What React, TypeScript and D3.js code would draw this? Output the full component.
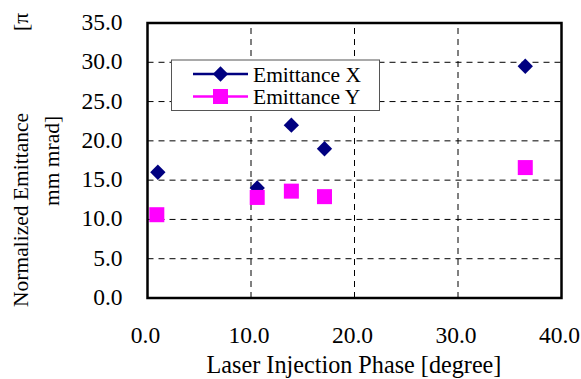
import React, {useEffect, useRef} from 'react';
import * as d3 from 'd3';

// laser injection phase [degree]
const phaseX = [1.0, 10.6, 13.9, 17.1, 36.5];
const emitX = [16.0, 14.0, 22.0, 19.0, 29.5];
const phaseY = [0.9, 10.6, 13.9, 17.1, 36.5];
const emitY = [10.6, 12.8, 13.6, 12.9, 16.6];

const xTicks = [0, 10, 20, 30, 40];
const yTicks = [0, 5, 10, 15, 20, 25, 30, 35];
const seriesNames = ['Emittance X', 'Emittance Y'];

const W = 581;
const H = 379;

function App() {
    const ref = useRef<SVGSVGElement>(null);

    useEffect(() => {
        const svg = d3.select(ref.current);
        svg.selectAll('*').remove();

        const font = 'Liberation Serif, Times New Roman, Times, DejaVu Serif, serif';
        const x = d3.scaleLinear().domain([0, 40]).range([147.5, 561.5]);
        const y = d3.scaleLinear().domain([0, 35]).range([298, 23]);

        // dashed grid
        svg.append('g')
            .selectAll('line')
            .data(yTicks.slice(1, -1))
            .enter()
            .append('line')
            .attr('x1', x(0)).attr('x2', x(40))
            .attr('y1', (d) => y(d)).attr('y2', (d) => y(d))
            .attr('stroke', '#000').attr('stroke-width', 1)
            .attr('stroke-dasharray', '6,5');
        svg.append('g')
            .selectAll('line')
            .data(xTicks.slice(1, -1))
            .enter()
            .append('line')
            .attr('y1', y(0)).attr('y2', y(35))
            .attr('x1', (d) => x(d)).attr('x2', (d) => x(d))
            .attr('stroke', '#000').attr('stroke-width', 1)
            .attr('stroke-dasharray', '6,5');

        // tick labels
        svg.append('g')
            .selectAll('text')
            .data(yTicks)
            .enter()
            .append('text')
            .attr('x', 122.5)
            .attr('y', (d) => y(d) + 7)
            .attr('text-anchor', 'end')
            .style('font-family', font)
            .style('font-size', '23.5px')
            .text((d) => d.toFixed(1));
        svg.append('g')
            .selectAll('text')
            .data(xTicks)
            .enter()
            .append('text')
            .attr('x', (d) => x(d) - 2)
            .attr('y', 343)
            .attr('text-anchor', 'middle')
            .style('font-family', font)
            .style('font-size', '23.5px')
            .text((d) => d.toFixed(1));

        // axis titles
        svg.append('text')
            .attr('x', 354).attr('y', 373)
            .attr('text-anchor', 'middle')
            .style('font-family', font)
            .style('font-size', '24.2px')
            .text('Laser Injection Phase [degree]');
        svg.append('text')
            .attr('transform', 'translate(28,210) rotate(-90)')
            .attr('text-anchor', 'middle')
            .style('font-family', font)
            .style('font-size', '21.5px')
            .text('Normalized Emittance');
        svg.append('text')
            .attr('transform', 'translate(28,22) rotate(-90)')
            .attr('text-anchor', 'middle')
            .style('font-family', font)
            .style('font-size', '21.5px')
            .text('[π');
        svg.append('text')
            .attr('transform', 'translate(59,161) rotate(-90)')
            .attr('text-anchor', 'middle')
            .style('font-family', font)
            .style('font-size', '21.5px')
            .text('mm mrad]');

        const diamond = d3.symbol().type(d3.symbolDiamond2).size(150);

        // series X
        svg.append('g')
            .selectAll('path')
            .data(phaseX.map((p, i) => [p, emitX[i]]))
            .enter()
            .append('path')
            .attr('d', diamond)
            .attr('transform', (d) => `translate(${x(d[0])},${y(d[1])})`)
            .attr('fill', '#000080');

        // series Y
        svg.append('g')
            .selectAll('rect')
            .data(phaseY.map((p, i) => [p, emitY[i]]))
            .enter()
            .append('rect')
            .attr('x', (d) => x(d[0]) - 7.5)
            .attr('y', (d) => y(d[1]) - 7.5)
            .attr('width', 15).attr('height', 15)
            .attr('fill', '#ff00ff');

        // plot frame
        svg.append('rect')
            .attr('x', x(0)).attr('y', y(35))
            .attr('width', x(40) - x(0)).attr('height', y(0) - y(35))
            .attr('fill', 'none').attr('stroke', '#000').attr('stroke-width', 2.5);

        // legend
        const lg = svg.append('g');
        lg.append('rect')
            .attr('x', 171.5).attr('y', 60)
            .attr('width', 208).attr('height', 50.5)
            .attr('fill', '#fff').attr('stroke', '#555').attr('stroke-width', 1);
        const colors = ['#000080', '#ff00ff'];
        seriesNames.forEach((name, i) => {
            const cy = 74 + i * 22.5;
            lg.append('line')
                .attr('x1', 193).attr('x2', 248)
                .attr('y1', cy).attr('y2', cy)
                .attr('stroke', colors[i]).attr('stroke-width', 2.5);
            if (i === 0) {
                lg.append('path').attr('d', diamond)
                    .attr('transform', `translate(220.5,${cy})`)
                    .attr('fill', colors[i]);
            } else {
                lg.append('rect')
                    .attr('x', 213).attr('y', cy - 7.5)
                    .attr('width', 15).attr('height', 15)
                    .attr('fill', colors[i]);
            }
            lg.append('text')
                .attr('x', 253).attr('y', cy)
                .attr('dy', '0.35em')
                .style('font-family', font)
                .style('font-size', '21.5px')
                .text(name);
        });
    }, []);

    return (
        <svg ref={ref} width={W} height={H}
             style={{position: 'absolute', left: 0, top: 0, background: '#fff'}}/>
    );
}

export default App;
